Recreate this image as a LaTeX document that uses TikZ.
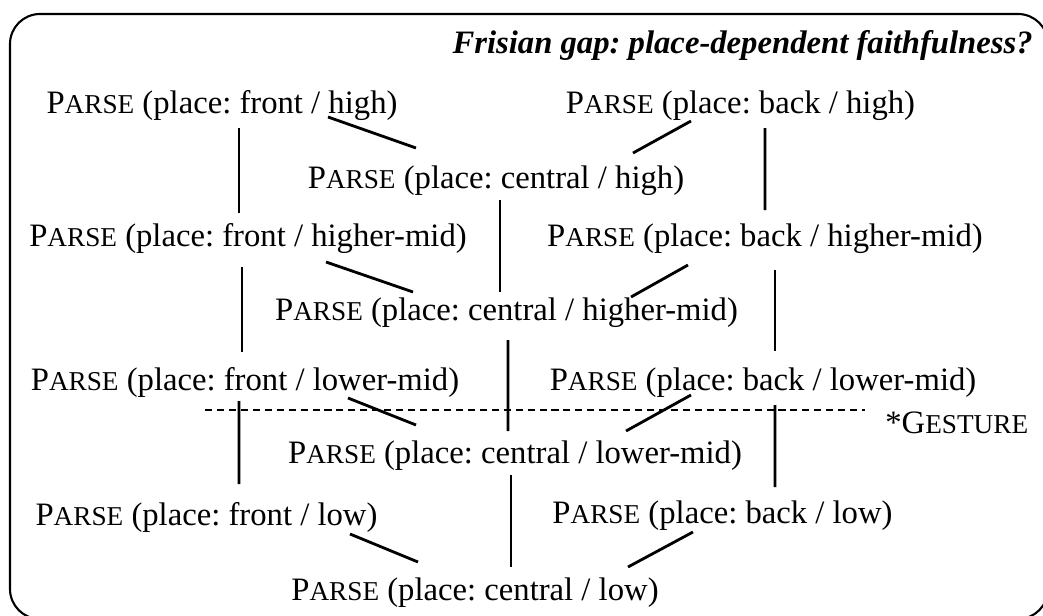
\documentclass[tikz,border=0pt]{standalone}
\usepackage{fontspec}
\setmainfont{Liberation Serif}
\usetikzlibrary{calc}

\newcommand{\Parse}{P{\fontsize{15.5}{18}\selectfont ARSE}}
\newcommand{\Gesture}{G{\fontsize{15.5}{18}\selectfont ESTURE}}
\frenchspacing

\begin{document}
\begin{tikzpicture}[
  x=0.02cm, y=-0.02cm,
  cand/.style={
    anchor=base,
    inner sep=0pt,
    font=\fontsize{18.6}{22}\selectfont
  },
  heading/.style={
    anchor=base east,
    inner sep=0pt,
    font=\fontsize{18.6}{22}\selectfont\bfseries\itshape
  },
  link/.style={line width=1.6pt},
  cutline/.style={dash pattern=on 4pt off 2.8pt, line width=0.8pt},
  frame/.style={line width=1.2pt, rounded corners=0.6cm}
]
\useasboundingbox (0,0) rectangle (1043,615);
\draw[frame] (10,14) rectangle (1048,619);

\node[heading] (title) at (1033,53) {Frisian gap: place-dependent faithfulness?};

% high
\node[cand] (fh) at (222,113) {\Parse{} (place: front / high)};
\node[cand] (bh) at (740.5,113) {\Parse{} (place: back / high)};
\node[cand] (ch) at (496,188) {\Parse{} (place: central / high)};
% higher-mid
\node[cand] (fhm) at (248,246) {\Parse{} (place: front / higher-mid)};
\node[cand] (bhm) at (765,246) {\Parse{} (place: back / higher-mid)};
\node[cand] (chm) at (506.5,320) {\Parse{} (place: central / higher-mid)};
% lower-mid
\node[cand] (flm) at (245,390) {\Parse{} (place: front / lower-mid)};
\node[cand] (blm) at (763,390) {\Parse{} (place: back / lower-mid)};
\node[cand] (clm) at (515,463) {\Parse{} (place: central / lower-mid)};
% low
\node[cand] (fl) at (206.5,525) {\Parse{} (place: front / low)};
\node[cand] (bl) at (722.5,523) {\Parse{} (place: back / low)};
\node[cand] (cl) at (475,600) {\Parse{} (place: central / low)};

\node[cand, anchor=base west] (gest) at (885,433) {*\Gesture};
\coordinate (cut) at (205,410);
\draw[cutline, shorten >=0.4cm] (cut) -- (cut -| gest.west);

\draw[link] ($(fh.base)+(17,15)$) -- ($(fhm.base)+(-9,-33)$);
\draw[link] ($(fh.base)+(106,4)$) -- ($(ch.base)+(-80,-40)$);
\draw[link] ($(bh.base)+(-49.5,8)$) -- ($(ch.base)+(137,-35)$);
\draw[link] ($(bh.base)+(24.5,15)$) -- ($(bhm.base)+(0,-36)$);
\draw[link] ($(ch.base)+(4,12)$) -- ($(chm.base)+(-6.5,-28)$);

\draw[link] ($(fhm.base)+(-6,21)$) -- ($(flm.base)+(-3,-38)$);
\draw[link] ($(fhm.base)+(78,16)$) -- ($(chm.base)+(-93.5,-28)$);
\draw[link] ($(bhm.base)+(-77,19)$) -- ($(chm.base)+(124.5,-23)$);
\draw[link] ($(bhm.base)+(10,24)$) -- ($(blm.base)+(12,-39)$);
\draw[link] ($(chm.base)+(1.5,20)$) -- ($(clm.base)+(-7,-32)$);

\draw[link] ($(flm.base)+(-6,11)$) -- ($(fl.base)+(32.5,-41)$);
\draw[link] ($(flm.base)+(103,8)$) -- ($(clm.base)+(-99,-38)$);
\draw[link] ($(blm.base)+(-72,5)$) -- ($(clm.base)+(111,-32)$);
\draw[link] ($(blm.base)+(12,15)$) -- ($(bl.base)+(52.5,-36)$);
\draw[link] ($(clm.base)+(-4,12)$) -- ($(cl.base)+(36,-33)$);

\draw[link] ($(fl.base)+(143.5,9)$) -- ($(cl.base)+(-57,-38)$);
\draw[link] ($(bl.base)+(-29.5,9)$) -- ($(cl.base)+(153,-33)$);
\end{tikzpicture}
\end{document}
